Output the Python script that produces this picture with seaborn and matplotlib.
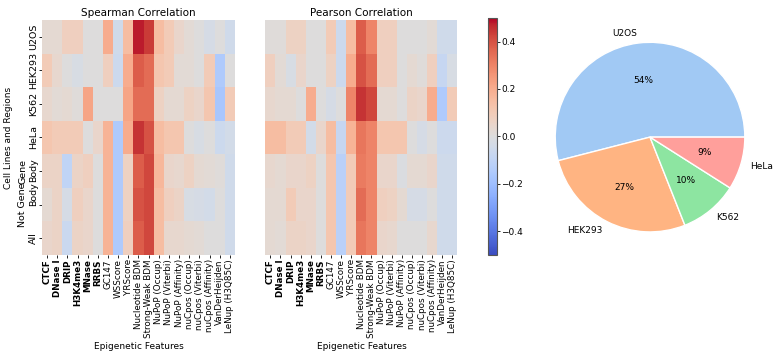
import numpy as np
import pandas as pd
import matplotlib
matplotlib.use("Agg")
import matplotlib.pyplot as plt
import seaborn as sns

sns.set_theme(style="white")
plt.rcParams['font.family'] = ['DejaVu Sans']
plt.rcParams.update({'text.color': 'black', 'axes.labelcolor': 'black',
                     'xtick.color': 'black', 'ytick.color': 'black'})

rows = ["U2OS", "HEK293", "K562", "HeLa", "Gene\nBody", "Not Gene\nBody", "All"]
features = ["CTCF", "DNase I", "DRIP", "H3K4me3", "MNase", "RRBS", "GC147", "WSScore",
            "YRScore", "Nucleotide BDM", "Strong-Weak BDM", "NuPoP (Occup)", "NuPoP (Viterbi)",
            "NuPoP (Affinity)", "nuCpos (Occup)", "nuCpos (Viterbi)", "nuCpos (Affinity)",
            "VanDerHeijden", "LeNup (H3Q85C)"]
bold_features = ["CTCF", "DNase I", "DRIP", "H3K4me3", "MNase", "RRBS"]

spearman_u2os = [0.03, 0.03, 0.08, 0.08, 0.0, 0.0, 0.2, -0.05, 0.15, 0.48, 0.44, 0.15, 0.1, 0.05, 0.02, 0.0, -0.03, 0.0, -0.05]
spearman_hek293 = [0.1, 0.04, 0.0, -0.02, 0.0, 0.0, 0.08, -0.06, 0.2, 0.38, 0.35, 0.12, 0.1, 0.02, 0.02, 0.0, 0.1, -0.15, 0.0]
spearman_k562 = [0.04, 0.02, 0.03, 0.01, 0.22, 0.0, 0.0, 0.0, 0.22, 0.35, 0.35, 0.07, 0.03, 0.03, 0.07, 0.05, 0.12, -0.17, 0.1]
spearman_hela = [0.12, 0.1, 0.1, 0.1, 0.0, 0.05, 0.18, -0.15, 0.2, 0.45, 0.4, 0.15, 0.12, 0.12, 0.0, -0.02, 0.0, -0.06, -0.04]
spearman_gene = [0.06, 0.06, -0.1, 0.06, 0.08, 0.0, 0.18, -0.15, 0.07, 0.38, 0.42, 0.17, 0.05, 0.04, 0.07, 0.03, 0.02, 0.01, -0.05]
spearman_notgene = [0.03, 0.06, -0.03, 0.08, 0.05, 0.0, 0.18, -0.15, 0.07, 0.4, 0.42, 0.15, 0.08, 0.06, -0.02, -0.03, -0.04, 0.0, -0.05]
spearman_all = [0.05, 0.06, -0.07, 0.06, 0.05, 0.0, 0.18, -0.15, 0.08, 0.38, 0.42, 0.15, 0.04, 0.04, 0.03, 0.02, 0.0, 0.0, -0.05]

pearson_u2os = [0.01, 0.01, 0.07, 0.07, 0.0, 0.0, 0.1, -0.06, 0.15, 0.38, 0.3, 0.08, 0.08, 0.0, 0.0, 0.0, 0.02, -0.05, -0.05]
pearson_hek293 = [0.08, 0.02, -0.02, 0.05, 0.0, 0.0, 0.07, -0.06, 0.2, 0.4, 0.35, 0.08, 0.08, 0.0, 0.03, 0.01, 0.08, -0.08, -0.02]
pearson_k562 = [0.04, 0.03, 0.03, 0.0, 0.2, 0.0, -0.03, 0.0, 0.3, 0.45, 0.42, 0.03, 0.03, 0.0, 0.06, 0.05, 0.2, -0.15, 0.1]
pearson_hela = [0.15, 0.15, 0.1, 0.1, -0.04, 0.05, 0.15, -0.08, 0.18, 0.33, 0.3, 0.12, 0.12, 0.12, 0.0, -0.03, 0.0, -0.06, -0.06]
pearson_gene = [0.04, 0.03, 0.05, 0.05, 0.07, 0.0, 0.12, -0.12, 0.1, 0.32, 0.3, 0.05, 0.05, -0.01, 0.03, 0.03, 0.05, -0.05, -0.05]
pearson_notgene = [0.03, 0.03, 0.1, 0.05, 0.05, 0.0, 0.12, -0.12, 0.1, 0.35, 0.3, 0.08, 0.07, 0.03, -0.03, -0.03, 0.0, -0.05, -0.05]
pearson_all = [0.03, 0.02, 0.06, 0.06, 0.05, 0.0, 0.12, -0.12, 0.1, 0.33, 0.3, 0.05, 0.04, 0.0, 0.0, 0.0, 0.04, -0.05, -0.05]

pie_labels = ["U2OS", "HEK293", "K562", "HeLa"]
pie_values = [54, 27, 10, 9]

spearman_df = pd.DataFrame([spearman_u2os, spearman_hek293, spearman_k562, spearman_hela,
                            spearman_gene, spearman_notgene, spearman_all],
                           index=rows, columns=features)
pearson_df = pd.DataFrame([pearson_u2os, pearson_hek293, pearson_k562, pearson_hela,
                           pearson_gene, pearson_notgene, pearson_all],
                          index=rows, columns=features)

fig = plt.figure(figsize=(7.78, 3.58), dpi=100)
ax1 = fig.add_axes([0.054, 0.288, 0.248, 0.656])
ax2 = fig.add_axes([0.341, 0.288, 0.247, 0.656])
cax = fig.add_axes([0.627, 0.288, 0.012, 0.662])
ax3 = fig.add_axes([0.683, 0.286, 0.305, 0.662])

tick_fs = 6.3
sns.heatmap(spearman_df, ax=ax1, cmap="coolwarm", vmin=-0.5, vmax=0.5, cbar=True, cbar_ax=cax)
sns.heatmap(pearson_df, ax=ax2, cmap="coolwarm", vmin=-0.5, vmax=0.5, cbar=False, yticklabels=False)

for ax, title in [(ax1, "Spearman Correlation"), (ax2, "Pearson Correlation")]:
    ax.set_title(title, fontsize=7.5, pad=3)
    ax.set_xlabel("Epigenetic Features", fontsize=6.5, labelpad=3)
    ax.tick_params(axis='x', length=2, width=0.6, labelsize=tick_fs, pad=1, bottom=True)
    ax.set_xticks(np.arange(len(features)) + 0.5)
    ax.set_xticklabels(features, rotation=90, fontsize=tick_fs)
    for lab in ax.get_xticklabels():
        if lab.get_text() in bold_features:
            lab.set_fontweight("bold")

ax1.set_ylabel("Cell Lines and Regions", fontsize=6.5)
ax1.tick_params(axis='y', length=2, width=0.6, labelsize=6.8, pad=1, left=True)
ax1.set_yticklabels(rows, rotation=90, va="center", fontsize=6.8)
ax2.set_ylabel("")

cbar = ax1.collections[0].colorbar
cbar.set_ticks([-0.4, -0.2, 0.0, 0.2, 0.4])
cbar.ax.tick_params(labelsize=6.5, length=2, width=0.6, pad=1)
cbar.outline.set_visible(True)
cbar.outline.set_edgecolor("#555555")
cbar.outline.set_linewidth(0.8)

colors = sns.color_palette("pastel")[:4]
ax3.pie(pie_values, labels=pie_labels, colors=colors, autopct='%1.0f%%',
        textprops={'fontsize': 6.5})
ax3.set_aspect('equal')

fig.savefig("out.png", dpi=100)
